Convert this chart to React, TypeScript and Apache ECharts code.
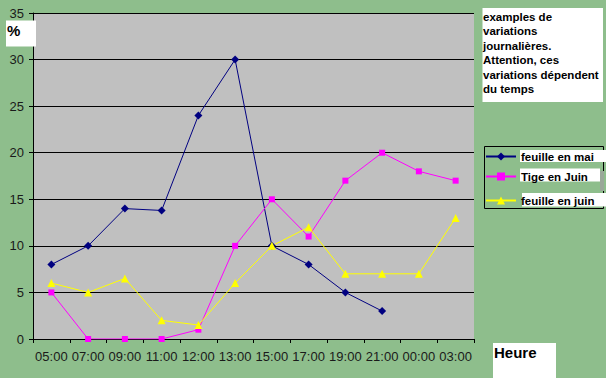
import React, { useEffect, useRef } from "react";
import * as echarts from "echarts";

const hours = ["05:00", "07:00", "09:00", "11:00", "12:00", "13:00", "15:00", "17:00", "19:00", "21:00", "00:00", "03:00"];
const feuilleMai = [8, 10, 14, 13.8, 24, 30, 10, 8, 5, 3, null, null];
const tigeJuin = [5, 0, 0, 0, 1, 10, 15, 11, 17, 20, 18, 17];
const feuilleJuin = [6, 5, 6.5, 2, 1.5, 6, 10, 12, 7, 7, 7, 13];
const seriesNames = ["feuille en mai", "Tige en Juin", "feuille en juin"];
const yTicks = { min: 0, max: 35, interval: 5 };
const noteLines = ["examples de", "variations", "journalières.", "Attention, ces", "variations dépendent", "du temps"];

const FONT = "'Liberation Sans', Arial, Helvetica, sans-serif";

export default function App() {
  const ref = useRef<HTMLDivElement>(null);
  useEffect(() => {
    if (!ref.current) return;
    const chart = echarts.init(ref.current, undefined, { renderer: "svg" });
    const legendRows = [155.5, 175.5, 199.5];
    const legendText = { color: "#000", fontSize: 11.5, fontWeight: "bold", fontFamily: FONT };
    chart.setOption({
      animation: false,
      backgroundColor: "#8EBE8C",
      textStyle: { fontFamily: FONT },
      grid: {
        left: 33,
        right: 132,
        top: 13,
        bottom: 39,
        show: true,
        backgroundColor: "#C0C0C0",
        borderWidth: 0,
        containLabel: false,
        outerBoundsMode: "none",
      },
      xAxis: {
        type: "category",
        data: hours,
        boundaryGap: true,
        axisLine: { show: true, lineStyle: { color: "#000", width: 1 } },
        axisTick: { show: true, length: 4, lineStyle: { color: "#000" }, alignWithLabel: false, interval: 0 },
        axisLabel: { interval: 0, color: "#1a1a1a", fontSize: 13, fontFamily: FONT, margin: 11 },
        splitLine: { show: false },
      },
      yAxis: {
        type: "value",
        min: yTicks.min,
        max: yTicks.max,
        interval: yTicks.interval,
        axisLine: { show: true, lineStyle: { color: "#000", width: 1 } },
        axisTick: { show: true, length: 4, lineStyle: { color: "#000" } },
        axisLabel: { color: "#1a1a1a", fontSize: 13, fontFamily: FONT, margin: 9 },
        splitLine: { show: true, lineStyle: { color: "#000", width: 1 } },
      },
      legend: seriesNames.map((n, i) => ({
        data: [n],
        left: 485,
        top: legendRows[i] - 5,
        orient: "vertical",
        padding: 0,
        itemWidth: 30,
        itemHeight: 10,
        itemGap: 0,
        selectedMode: false,
        textStyle: legendText,
      })),
      graphic: [
        { type: "rect", shape: { x: 484.5, y: 146.5, width: 119, height: 62 }, style: { fill: "none", stroke: "#000", lineWidth: 1 }, z: 0 },
        { type: "rect", shape: { x: 520, y: 150, width: 86, height: 12 }, style: { fill: "#fff" }, z: 1 },
        { type: "rect", shape: { x: 520, y: 168.5, width: 80, height: 13 }, style: { fill: "#fff" }, z: 1 },
        { type: "rect", shape: { x: 600, y: 171, width: 4, height: 20 }, style: { fill: "#9aa89a" }, z: 1 },
        { type: "rect", shape: { x: 522, y: 193, width: 84, height: 13.5 }, style: { fill: "#fff" }, z: 1 },
        { type: "rect", shape: { x: 482.5, y: 8, width: 120.5, height: 94 }, style: { fill: "#fff" }, z: 1 },
        {
          type: "text",
          x: 483,
          y: 9.5,
          z: 2,
          style: {
            text: noteLines.join("\n"),
            fill: "#000",
            font: `bold 11.5px ${FONT}`,
            lineHeight: 14.5,
            verticalAlign: "top",
            align: "left",
          },
        },
        { type: "rect", shape: { x: 6, y: 20.5, width: 30, height: 26 }, style: { fill: "#fff" }, z: 1 },
        { type: "text", x: 7, y: 30, z: 2, style: { text: "%", fill: "#000", font: `bold 15px ${FONT}`, verticalAlign: "middle" } },
        { type: "rect", shape: { x: 493, y: 343, width: 63, height: 35 }, style: { fill: "#fff" }, z: 1 },
        { type: "text", x: 494, y: 352.5, z: 2, style: { text: "Heure", fill: "#000", font: `bold 15px ${FONT}`, verticalAlign: "middle" } },
      ],
      series: [
        {
          name: seriesNames[0],
          type: "line",
          data: feuilleMai,
          symbol: "diamond",
          symbolSize: 8,
          connectNulls: false,
          lineStyle: { color: "#000080", width: 1 },
          itemStyle: { color: "#000080" },
        },
        {
          name: seriesNames[1],
          type: "line",
          data: tigeJuin,
          symbol: "rect",
          symbolSize: 6,
          lineStyle: { color: "#FF00FF", width: 1 },
          itemStyle: { color: "#FF00FF" },
        },
        {
          name: seriesNames[2],
          type: "line",
          data: feuilleJuin,
          symbol: "triangle",
          symbolSize: 8,
          lineStyle: { color: "#FFFF00", width: 1 },
          itemStyle: { color: "#FFFF00" },
        },
      ],
    });
    return () => chart.dispose();
  }, []);
  return <div ref={ref} style={{ position: "fixed", left: 0, top: 0, width: 606, height: 378 }} />;
}
